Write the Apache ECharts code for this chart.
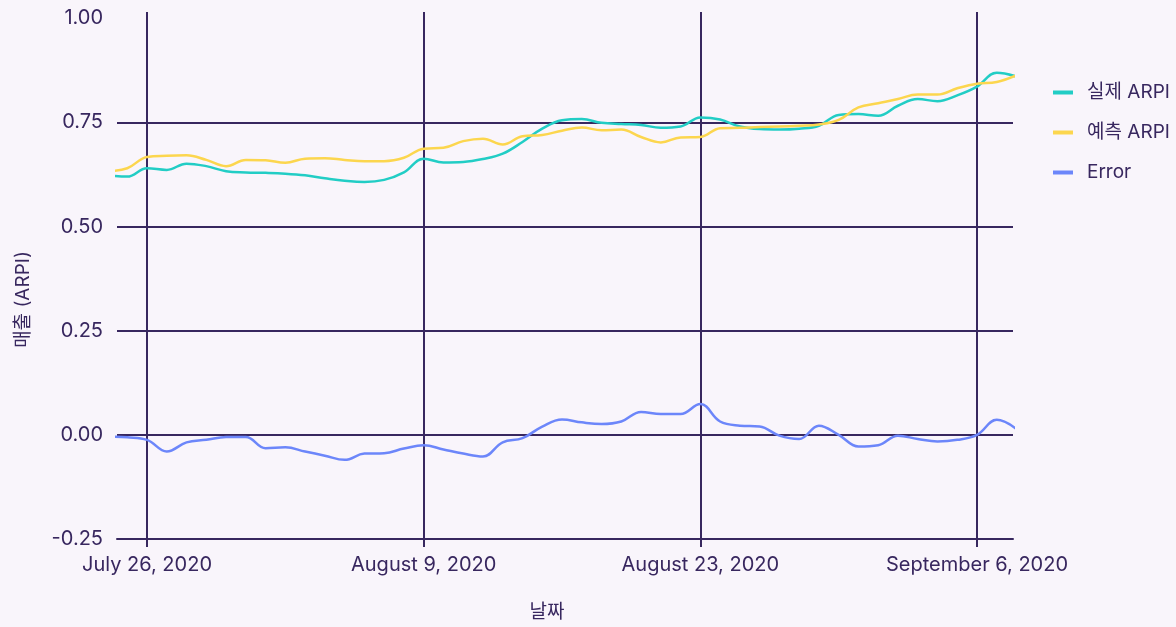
<!DOCTYPE html>
<html>
<head>
<meta charset="utf-8">
<script src="https://cdn.jsdelivr.net/npm/echarts@6/dist/echarts.min.js"></script>
<style>
  html, body { margin: 0; padding: 0; background: #f9f5fb; }
  #chart { width: 1176px; height: 627px; }
</style>
</head>
<body>
<div id="chart"></div>
<script>
// daily points, July 24 2020 .. September 8 2020
var DAY = 86400000;
var firstDay = Date.UTC(2020, 6, 24);
var dates = [];
for (var i = 0; i < 47; i++) dates.push(firstDay + i * DAY);

// 실제 ARPI
var actual = [
  0.623, 0.620, 0.640, 0.636, 0.651, 0.645, 0.633, 0.630, 0.629, 0.627,
  0.623, 0.616, 0.610, 0.607, 0.612, 0.630, 0.663, 0.654, 0.655, 0.662,
  0.675, 0.703, 0.735, 0.755, 0.758, 0.749, 0.746, 0.744, 0.737, 0.740,
  0.762, 0.757, 0.740, 0.734, 0.733, 0.735, 0.742, 0.768, 0.770, 0.766,
  0.790, 0.806, 0.801, 0.815, 0.836, 0.869, 0.860
];
// 예측 ARPI
var predicted = [
  0.633, 0.640, 0.667, 0.670, 0.671, 0.660, 0.645, 0.660, 0.659, 0.653,
  0.663, 0.664, 0.660, 0.657, 0.657, 0.665, 0.687, 0.689, 0.705, 0.711,
  0.697, 0.717, 0.720, 0.730, 0.738, 0.731, 0.733, 0.715, 0.702, 0.714,
  0.715, 0.736, 0.737, 0.739, 0.740, 0.742, 0.745, 0.756, 0.786, 0.796,
  0.806, 0.817, 0.817, 0.832, 0.843, 0.847, 0.863
];
// Error
var errors = [
  -0.004, -0.006, -0.012, -0.040, -0.018, -0.012, -0.005, -0.005, -0.032, -0.030,
  -0.040, -0.050, -0.060, -0.045, -0.044, -0.033, -0.025, -0.035, -0.045, -0.052,
  -0.018, -0.008, 0.020, 0.037, 0.030, 0.026, 0.032, 0.055, 0.050, 0.050,
  0.074, 0.032, 0.022, 0.020, -0.002, -0.010, 0.022, 0.000, -0.028, -0.025,
  -0.002, -0.010, -0.016, -0.012, 0.000, 0.036, 0.014
];

var dateTicks = [Date.UTC(2020, 6, 26), Date.UTC(2020, 7, 9), Date.UTC(2020, 7, 23), Date.UTC(2020, 8, 6)];
var yTicks = [-0.25, 0, 0.25, 0.5, 0.75];
var yLabels = [-0.25, 0, 0.25, 0.5, 0.75, 1];
var monthNames = ["January", "February", "March", "April", "May", "June", "July",
  "August", "September", "October", "November", "December"];

function pairs(vals) {
  return vals.map(function (v, i) { return [dates[i], v]; });
}

var ink = "#38275f";
var font = 'Inter, "Noto Sans CJK KR", sans-serif';

var mychart = echarts.init(document.getElementById("chart"));
var option = {
  backgroundColor: "#f9f5fb",
  color: ["#22cdc5", "#fcd64e", "#6c86fa"],
  textStyle: { fontFamily: font, color: ink },
  grid: { left: 117, right: 163, top: 12, bottom: 88 },
  legend: {
    orient: "vertical",
    left: 1048,
    top: 78,
    icon: "rect",
    itemWidth: 20,
    itemHeight: 4,
    itemGap: 21,
    textStyle: { fontSize: 19, color: ink, fontFamily: font, padding: [0, 0, 0, 9] },
    data: ["실제 ARPI", "예측 ARPI", "Error"],
  },
  xAxis: {
    type: "value",
    min: Date.UTC(2020, 6, 24, 11, 34),
    max: Date.UTC(2020, 8, 7, 19, 43),
    name: "날짜",
    nameLocation: "middle",
    nameGap: 64,
    nameTextStyle: { fontSize: 19, color: ink, fontFamily: font, padding: [0, 36, 0, 0] },
    axisLine: { show: true, onZero: false, lineStyle: { color: ink, width: 2 } },
    axisTick: { show: true, customValues: dateTicks, length: 8, lineStyle: { color: ink, width: 2 } },
    axisLabel: {
      customValues: dateTicks,
      fontSize: 20,
      color: ink,
      margin: 16,
      formatter: function (v) {
        var d = new Date(v);
        return monthNames[d.getUTCMonth()] + " " + d.getUTCDate() + ", " + d.getUTCFullYear();
      },
    },
    splitLine: { show: true, lineStyle: { color: ink, width: 2 } },
  },
  yAxis: {
    type: "value",
    min: -0.25,
    max: 1.015,
    name: "매출 (ARPI)",
    nameLocation: "middle",
    nameGap: 84,
    nameTextStyle: { fontSize: 19, color: ink, fontFamily: font, padding: [0, 48, 0, 0] },
    axisLine: { show: false },
    axisTick: { show: false, customValues: yTicks },
    axisLabel: {
      customValues: yLabels,
      fontSize: 20,
      color: ink,
      margin: 14,
      formatter: function (v) { return v.toFixed(2); },
    },
    splitLine: { show: true, lineStyle: { color: ink, width: 2 } },
  },
  series: [
    { name: "실제 ARPI", type: "line", smooth: 0.4, symbol: "none", clip: false, lineStyle: { width: 2.5 }, data: pairs(actual) },
    { name: "예측 ARPI", type: "line", smooth: 0.4, symbol: "none", clip: false, lineStyle: { width: 2.5 }, data: pairs(predicted) },
    { name: "Error", type: "line", smooth: 0.4, symbol: "none", clip: false, lineStyle: { width: 2.5 }, data: pairs(errors) },
  ],
};
mychart.setOption(option);
</script>
</body>
</html>
